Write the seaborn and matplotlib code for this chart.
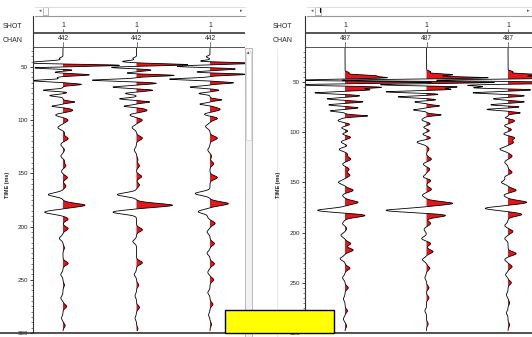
import numpy as np
import matplotlib
matplotlib.use('Agg')
import matplotlib.pyplot as plt
import seaborn as sns
from matplotlib.patches import Rectangle
from matplotlib.lines import Line2D
from matplotlib.ticker import MultipleLocator

W, H = 532, 337

shot_labels = ['1', '1', '1']
chan_left = ['442', '442', '442']
chan_right = ['487', '487', '487']
time_ticks = [50, 100, 150, 200, 250, 300]

# picked events per trace: time (ms) and amplitude (in trace spacings)
l1_t = [42, 45, 46.5, 48.5, 51, 53, 55, 57.5, 60, 63, 66.5, 72, 74, 77, 83, 87, 91, 95, 100, 107, 112, 117.5, 123, 128, 134, 138, 143, 148, 154, 162,
        170, 180, 186.5, 193, 202, 211, 220, 234.6, 245, 255, 267, 275, 286, 293]
l1_a = [-0.05, -0.23, -0.45, 0.8, -0.4, 0.15, -0.12, 0.36, -0.08, -0.42, 0.25, -0.27, 0.06, -0.18, 0.16, -0.16, 0.14, -0.11, 0.07, -0.07, 0.02, 0.07, -0.03, 0.02, -0.03, 0.02, 0.04, -0.02, 0.06, 0.04,
        -0.2, 0.3, -0.25, 0.07, 0.07, -0.05, 0.02, 0.07, -0.03, 0.02, -0.03, 0.05, -0.02, 0.03]

l2_t = [42, 45, 48, 50.5, 53, 56, 58, 62.5, 65.5, 69, 72, 75, 80, 83, 87, 91, 95, 100, 107, 117, 128, 137, 143, 153, 161,
        170, 180, 186.5, 203, 214, 234, 245, 255, 265, 276, 286, 296]
l2_a = [-0.05, -0.19, 0.7, -0.35, 0.2, -0.15, 0.52, -0.6, 0.27, -0.32, 0.22, -0.15, -0.23, 0.18, -0.18, 0.15, -0.1, 0.08, -0.06, 0.08, -0.03, 0.02, 0.04, 0.07, 0.04,
        -0.26, 0.49, -0.32, 0.08, -0.05, 0.08, -0.03, 0.03, -0.02, 0.04, -0.02, 0.02]

l3_t = [40.5, 45, 46.5, 49.5, 52, 55, 57, 61.5, 65, 69, 72, 75, 81, 85, 90, 95, 98, 106, 117, 128, 134, 141, 154,
        169, 178.5, 186, 191, 197, 205, 216, 225, 235, 243, 250, 262, 273, 283, 292]
l3_a = [-0.05, -0.2, 0.65, -0.45, 0.35, -0.2, 0.5, -0.55, 0.32, -0.27, 0.12, -0.15, 0.16, -0.14, 0.14, -0.1, 0.12, -0.06, 0.1, -0.03, 0.02, 0.05, 0.1,
        -0.2, 0.25, -0.16, -0.03, 0.07, -0.04, 0.06, -0.04, 0.06, -0.03, 0.05, -0.03, 0.04, -0.02, 0.02]

r1_t = [41, 44, 46, 48.5, 50.5, 53, 55.5, 58, 61, 64, 67, 70, 73, 76, 79, 84, 89, 92, 96, 99, 102, 105, 110, 114, 117, 122, 127, 132, 137, 143, 150, 158,
        163, 170, 178, 183, 191, 196, 202.7, 211, 217.5, 226, 235.5, 245, 255, 266, 278, 286, 293]
r1_a = [0.05, 0.35, 0.5, -0.55, 1.1, -0.6, 0.45, 0.3, -0.37, 0.18, -0.22, 0.22, -0.2, 0.16, -0.18, 0.28, -0.1, 0.08, -0.06, 0.06, -0.06, 0.08, -0.05, 0.04, -0.08, 0.03, 0.07, -0.03, 0.05, 0.06, -0.08, 0.1,
        -0.03, 0.16, -0.34, 0.25, -0.03, 0.02, -0.05, 0.07, 0.1, -0.06, 0.06, -0.03, 0.04, -0.02, 0.03, -0.02, 0.02]

r2_t = [40, 43, 46, 48.5, 50.5, 53, 55, 57.5, 60, 62.5, 65, 68, 70, 74, 78, 83, 88, 92, 95, 99, 102, 106, 110, 117, 127, 132, 137, 145, 148, 157,
        163, 171, 178, 183, 191, 197, 206, 211, 219, 227, 235.5, 245, 255, 265, 278, 291]
r2_a = [0.05, 0.32, 0.77, -1.1, 0.9, -0.6, 0.4, 0.3, -0.5, 0.15, -0.35, 0.12, -0.15, 0.16, -0.16, 0.18, -0.06, 0.06, -0.05, 0.05, -0.06, 0.06, -0.12, 0.03, 0.06, -0.04, 0.04, -0.05, 0.06, 0.06,
        -0.05, 0.32, -0.5, 0.24, 0.05, -0.03, -0.06, 0.05, 0.08, -0.05, 0.04, -0.02, 0.03, 0.03, -0.02, 0.02]

r3_t = [40, 43, 46, 48.5, 51, 53.5, 56, 58, 61, 64, 67, 70, 73, 75, 77.5, 81, 86, 89, 94, 97.5, 102, 106, 108, 110, 117, 124, 130, 140, 145, 150,
        158, 163, 170, 176, 182, 193, 199, 206, 221, 227, 234, 242, 250, 262, 270, 280, 292]
r3_a = [0.06, 0.4, 0.9, -0.9, 1.0, -0.5, -0.43, 0.3, -0.43, 0.2, -0.18, 0.2, -0.22, 0.15, -0.26, 0.15, -0.05, 0.08, -0.05, 0.05, -0.06, 0.1, -0.04, 0.08, -0.1, 0.05, -0.04, 0.05, -0.04, -0.08,
        0.1, -0.05, 0.23, -0.28, 0.17, -0.04, 0.06, -0.04, 0.1, -0.04, 0.05, -0.03, 0.04, -0.02, 0.02, -0.02, 0.02]

sns.set_style('white')
plt.rcParams['font.family'] = ['Liberation Sans Narrow', 'Liberation Sans', 'DejaVu Sans']

fig = plt.figure(figsize=(W / 100, H / 100), dpi=100)
fig.patch.set_facecolor('white')


def box(x, y, w, h):
    return [x / W, 1 - (y + h) / H, w / W, h / H]


def wiggle(times, amps, t):
    out = np.zeros_like(t)
    for t0, a in zip(times, amps):
        w = 1.2 if t0 < 88 else 2.5
        out += a * np.exp(-((t - t0) / w) ** 2)
    return out


def fline(x0, y0, x1, y1, **kw):
    fig.add_artist(Line2D([x0 / W, x1 / W], [1 - y0 / H, 1 - y1 / H], transform=fig.transFigure, **kw))


def panel(x0, x1, ylim, xlim, traces, chans, label_x):
    width = x1 - x0
    ax = fig.add_axes(box(x0, 48, width, 285))
    t = np.arange(ylim[1], ylim[0], 0.1)
    for i, (tt, aa) in enumerate(traces):
        base = i + 1
        amp = wiggle(tt, aa, t)
        ax.fill_betweenx(t, base, base + amp, where=amp > 0, interpolate=True,
                         color='#e3161b', lw=0)
        sns.lineplot(x=base + amp, y=t, orient='y', sort=False, estimator=None,
                     color='black', lw=0.6, ax=ax)
    ax.set_xlim(*xlim)
    ax.set_ylim(*ylim)
    ax.set_xticks([])
    ax.set_yticks(time_ticks)
    ax.yaxis.set_minor_locator(MultipleLocator(5))
    ax.tick_params(axis='y', which='major', direction='out', length=2.5, width=0.6,
                   labelsize=4.5, pad=1, left=True)
    ax.tick_params(axis='y', which='minor', direction='out', length=1.5, width=0.4, left=True)
    ax.set_xlabel('')
    ax.set_ylabel('')
    for s in ['top', 'right']:
        ax.spines[s].set_visible(False)
    ax.spines['left'].set_color('#333333')
    ax.spines['left'].set_linewidth(0.8)
    ax.spines['bottom'].set_color('#333333')
    ax.spines['bottom'].set_linewidth(1.2)
    ax.patch.set_alpha(0)

    # header rows
    hx = fig.add_axes(box(x0, 16, width, 32))
    hx.set_xlim(*xlim)
    hx.set_ylim(32, 0)
    hx.set_xticks([])
    hx.set_yticks([])
    for s in ['top', 'right', 'bottom']:
        hx.spines[s].set_visible(False)
    hx.spines['left'].set_color('#333333')
    hx.spines['left'].set_linewidth(0.8)
    hx.axhline(17, color='#555555', lw=1.4)
    hx.axhline(31.5, color='#555555', lw=1.4)
    for i in range(3):
        hx.text(i + 1, 9.5, shot_labels[i], ha='center', va='center', fontsize=5)
        hx.text(i + 1, 22, chans[i], ha='center', va='center', fontsize=4.8)
        hx.plot([i + 1, i + 1], [12.5, 16], color='#444444', lw=0.5)
        hx.plot([i + 1, i + 1], [25.5, 31], color='#444444', lw=0.5)
    hx.patch.set_alpha(0)

    fig.text((label_x) / W, 1 - 26 / H, 'SHOT', fontsize=5, va='center', ha='left')
    fig.text((label_x) / W, 1 - 41 / H, 'CHAN', fontsize=5, va='center', ha='left')
    fig.text((label_x + 5) / W, 1 - 185 / H, 'TIME (ms)', fontsize=4, fontweight='bold',
             rotation=90, va='center', ha='center')

    # top scroll bar
    fline(x0 + 2, 15.5, x1, 15.5, color='#9a9a9a', lw=0.8)
    fline(x0 + 2, 7, x1, 7, color='#d8d8d8', lw=0.6)
    fig.text((x0 + 7) / W, 1 - 11 / H, '\u25c2', fontsize=3.5, color='#555555', ha='center', va='center',
             family='DejaVu Sans')
    fig.text((x1 - 4) / W, 1 - 11 / H, '\u25b8', fontsize=3.5, color='#555555', ha='center', va='center',
             family='DejaVu Sans')
    return ax


left_traces = [(l1_t, l1_a), (l2_t, l2_a), (l3_t, l3_a)]
right_traces = [(r1_t, r1_a), (r2_t, r2_a), (r3_t, r3_a)]

axl = panel(33, 245, (298.0, 32.3), (0.592, 3.476), left_traces, chan_left, 3)
axr = panel(305, 532, (297.8, 16.4), (0.509, 3.294), right_traces, chan_right, 273)

# left panel: thumb of top scroll bar, side scroll bar
fig.add_artist(Rectangle((43 / W, 1 - 15 / H), 5 / W, 8 / H, transform=fig.transFigure,
                         fc='white', ec='#9a9a9a', lw=0.5))
fig.add_artist(Rectangle((315 / W, 1 - 15 / H), 6 / W, 8 / H, transform=fig.transFigure,
                         fc='white', ec='#9a9a9a', lw=0.5))
fline(320, 8, 320, 12, color='black', lw=0.8)
fig.add_artist(Rectangle((245 / W, 0), 7 / W, 289 / H, transform=fig.transFigure,
                         fc='#f2f2f2', ec='#b0b0b0', lw=0.6))
fig.add_artist(Rectangle((246 / W, 1 - 140 / H), 5 / W, 88 / H, transform=fig.transFigure,
                         fc='white', ec='#c8c8c8', lw=0.4))
fig.text(248.5 / W, 1 - 53 / H, '\u25b4', fontsize=3.5, color='#444444', ha='center', va='center',
         family='DejaVu Sans')
fline(277, 48, 277, 337, color='#e4e4e4', lw=0.6)
fline(0, 333, 33, 333, color='#333333', lw=1.2)
fline(277, 333, 305, 333, color='#333333', lw=1.2)

# yellow box
fig.add_artist(Rectangle((225 / W, 1 - 333 / H), 109 / W, 23 / H, transform=fig.transFigure,
                         fc='#ffff00', ec='black', lw=1, zorder=10))

fig.savefig('out.png', dpi=100)
